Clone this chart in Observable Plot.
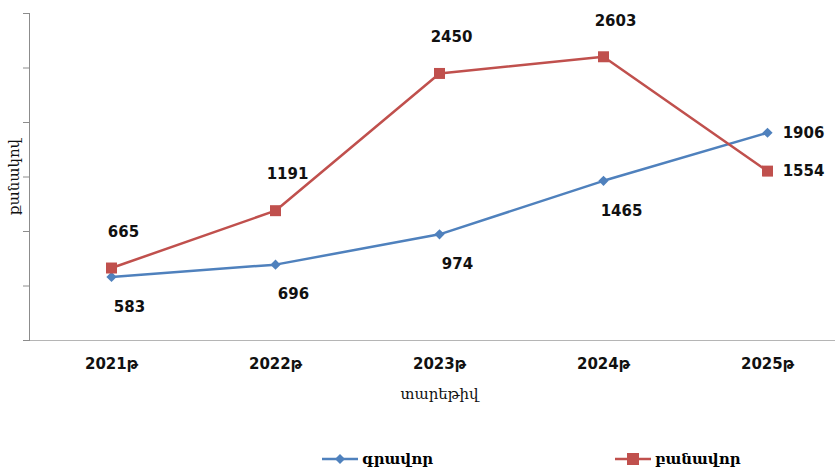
<!DOCTYPE html>
<html><head><meta charset="utf-8">
<script src="https://cdn.jsdelivr.net/npm/d3@7"></script>
<script src="https://cdn.jsdelivr.net/npm/@observablehq/plot@0.6"></script>
<style>
body{margin:0;background:#fff;width:835px;height:468px;position:relative;overflow:hidden;}
#legend .item{position:absolute;top:450px;display:flex;align-items:center;gap:4px;font-family:"DejaVu Serif",serif;font-weight:bold;font-size:15px;color:#000;line-height:18px;}
</style></head><body>
<div id="chart"></div>
<div id="legend"></div>
<script>
const years = ["2021թ","2022թ","2023թ","2024թ","2025թ"];
const written = [583, 696, 974, 1465, 1906];
const oral = [665, 1191, 2450, 2603, 1554];
const seriesNames = ["գրավոր", "բանավոր"];
const yTicks = [0, 500, 1000, 1500, 2000, 2500, 3000];
const xTitle = "տարեթիվ";
const yTitle = "քանակով";

const blue = "#4F81BD", red = "#C0504D";
const W = years.map((y, i) => ({year: y, value: written[i], series: seriesNames[0]}));
const O = years.map((y, i) => ({year: y, value: oral[i], series: seriesNames[1]}));
const rows = W.concat(O);
const last = years[years.length - 1];
const lbl = {fontSize: 15, fontWeight: "bold", fontFamily: "DejaVu Sans", fill: "#111"};

const chart = Plot.plot({
  width: 835, height: 410,
  marginTop: 13, marginBottom: 70, marginLeft: 29, marginRight: 0,
  style: {fontFamily: "DejaVu Sans", background: "#fff", overflow: "visible"},
  x: {type: "point", domain: years, range: [111, 767], padding: 0},
  y: {domain: [0, 3000]},
  color: {domain: seriesNames, range: [blue, red]},
  marks: [
    Plot.ruleY([0], {stroke: "#b5b5b5", strokeWidth: 1.2}),
    Plot.frame({anchor: "left", stroke: "#8c8c8c"}),
    Plot.axisY({ticks: yTicks, tickSize: 6, tickFormat: () => "", stroke: "#8c8c8c", label: null}),
    Plot.axisX({tickSize: 0, tickPadding: 18, fontSize: 15, fontWeight: "bold", fill: "#111", label: null}),
    Plot.text([xTitle], {text: d => d, frameAnchor: "bottom", lineAnchor: "middle", dx: 7, dy: 54, fontSize: 15, fontFamily: "DejaVu Serif", fill: "#111"}),
    Plot.text([yTitle], {text: d => d, frameAnchor: "left", textAnchor: "middle", dx: -15, rotate: -90, fontSize: 15, fontFamily: "DejaVu Serif", fill: "#111"}),
    Plot.line(rows, {x: "year", y: "value", z: "series", stroke: "series", strokeWidth: 2.5}),
    Plot.dot(W, {x: "year", y: "value", symbol: "diamond2", r: 4.6, fill: blue, stroke: "none"}),
    Plot.dot(O, {x: "year", y: "value", symbol: "square", r: 6.2, fill: red, stroke: "none"}),
    Plot.text(W.filter(d => d.year !== last), {x: "year", y: "value", text: d => String(d.value), dx: 18, dy: 30, ...lbl}),
    Plot.text(O.filter(d => d.year !== last), {x: "year", y: "value", text: d => String(d.value), dx: 12, dy: -36, ...lbl}),
    Plot.text(rows.filter(d => d.year === last), {x: "year", y: "value", text: d => String(d.value), dx: 36, ...lbl})
  ]
});
document.getElementById("chart").append(chart);

const legend = document.getElementById("legend");
const lefts = [322, 615];
const symbols = [
  c => `<path d="M18,1 L23,6 L18,11 L13,6 Z" fill="${c}"/>`,
  c => `<rect x="12" y="0" width="12" height="12" fill="${c}"/>`
];
seriesNames.forEach((name, i) => {
  const c = [blue, red][i];
  const item = document.createElement("div");
  item.className = "item";
  item.style.left = lefts[i] + "px";
  item.innerHTML = `<svg width="36" height="12"><line x1="0" y1="6" x2="36" y2="6" stroke="${c}" stroke-width="2.5"/>${symbols[i](c)}</svg><span>${name}</span>`;
  legend.append(item);
});
</script>
</body></html>
